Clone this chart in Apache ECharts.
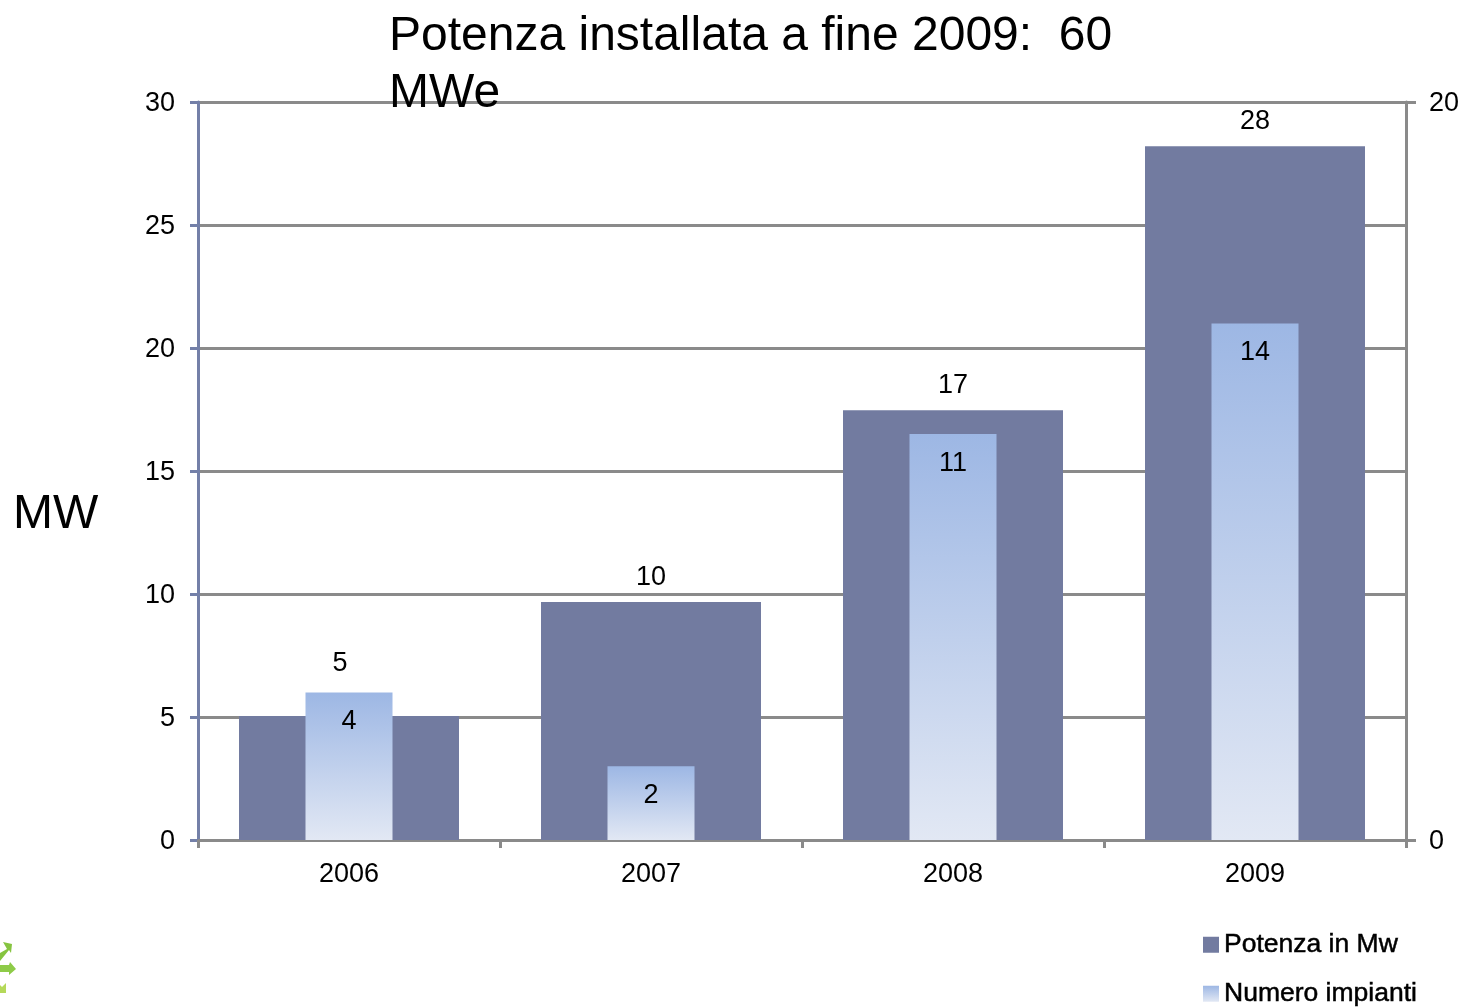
<!DOCTYPE html>
<html>
<head>
<meta charset="utf-8">
<title>Potenza installata</title>
<script src="https://cdn.jsdelivr.net/npm/echarts@6/dist/echarts.min.js"></script>
<style>
html, body { margin: 0; padding: 0; background: #fff; }
#main { width: 1463px; height: 1007px; }
</style>
</head>
<body>
<div id="main"></div>
<script>
var anni = ['2006', '2007', '2008', '2009'];
var potenzaMw = [5.04, 9.67, 17.47, 28.2];
var numeroImpianti = [4, 2, 11, 14];
var ticksPotenza = [0, 30];
var ticksImpianti = [0, 20];

var font = '"Liberation Sans", Arial, sans-serif';
var grigio = '#8a8a8a';
var bluAsse = '#7480a8';

var gradienteChiaro = new echarts.graphic.LinearGradient(0, 0, 0, 1, [
    { offset: 0, color: '#9db7e4' },
    { offset: 1, color: '#e2e8f4' }
]);

var myChart = echarts.init(document.getElementById('main'), null, { renderer: 'canvas' });

// il 5 del 2006 sta spostato sopra la barra chiara
var datiPotenza = potenzaMw.map(function (v, i) {
    if (i == 0) {
        return { value: v, label: { offset: [-9, -28] } };
    }
    return v;
});

// due legende separate: in verticale la seconda voce andava a capo a destra
function voceLegenda(nome, top) {
    return {
        left: 1198,
        top: top,
        icon: 'rect',
        itemWidth: 16,
        itemHeight: 16,
        data: [nome],
        textStyle: {
            fontFamily: font,
            fontSize: 26.5,
            color: '#000',
            textBorderColor: '#000',
            textBorderWidth: 0.5
        }
    };
}

// etichette degli assi y, un paio di pixel piu in basso della tacca
function etichettaY() {
    return {
        color: '#000',
        margin: 23,
        formatter: '{v|{value}}',
        rich: { v: { fontFamily: font, fontSize: 27, color: '#000', padding: [4, 0, 0, 0] } }
    };
}

var option = {
    backgroundColor: '#fff',
    animation: false,
    textStyle: { fontFamily: font },
    title: [
        {
            text: 'Potenza installata a fine 2009:  60\nMWe',
            left: 384,
            top: 3,
            textStyle: { fontFamily: font, fontSize: 48, fontWeight: 'normal', color: '#000', lineHeight: 57 }
        },
        {
            text: 'MW',
            left: 8,
            top: 486,
            textStyle: { fontFamily: font, fontSize: 48, fontWeight: 'normal', color: '#000' }
        }
    ],
    legend: [
        voceLegenda('Potenza in Mw', 926),
        voceLegenda('Numero impianti', 975)
    ],
    grid: { left: 198, right: 57, top: 102, bottom: 167 },
    xAxis: [
        {
            type: 'category',
            data: anni,
            axisLine: { lineStyle: { color: grigio, width: 3 } },
            axisTick: { show: true, alignWithLabel: false, length: 8, lineStyle: { color: grigio, width: 3 } },
            axisLabel: { fontFamily: font, fontSize: 27, color: '#000', margin: 21 }
        },
        // secondo asse nascosto, cosi le barre chiare restano centrate su quelle scure
        { type: 'category', data: anni, show: false }
    ],
    yAxis: [
        {
            type: 'value',
            min: ticksPotenza[0],
            max: ticksPotenza[1],
            interval: 5,
            axisLine: { show: true, lineStyle: { color: bluAsse, width: 3 } },
            axisTick: { show: true, length: 8, lineStyle: { color: bluAsse, width: 3 } },
            axisLabel: etichettaY(),
            splitLine: { show: true, lineStyle: { color: grigio, width: 3 } }
        },
        {
            type: 'value',
            position: 'right',
            min: ticksImpianti[0],
            max: ticksImpianti[1],
            interval: 20,
            axisLine: { show: true, lineStyle: { color: grigio, width: 3 } },
            axisTick: { show: true, length: 10, lineStyle: { color: grigio, width: 3 } },
            axisLabel: etichettaY(),
            splitLine: { show: false }
        }
    ],
    series: [
        {
            name: 'Potenza in Mw',
            type: 'bar',
            xAxisIndex: 0,
            yAxisIndex: 0,
            data: datiPotenza,
            barWidth: 220,
            itemStyle: { color: '#727ba0' },
            label: {
                show: true,
                position: 'top',
                distance: 11,
                fontFamily: font,
                fontSize: 27,
                color: '#000',
                formatter: function (p) { return Math.round(p.value); }
            },
            z: 2
        },
        {
            name: 'Numero impianti',
            type: 'bar',
            xAxisIndex: 1,
            yAxisIndex: 1,
            data: numeroImpianti,
            barWidth: 87,
            itemStyle: { color: gradienteChiaro },
            label: {
                show: true,
                position: 'insideTop',
                distance: 16,
                fontFamily: font,
                fontSize: 27,
                color: '#000'
            },
            z: 3
        }
    ],
    // logo tagliato in basso a sinistra
    graphic: [
        { type: 'polygon', shape: { points: [[0, 953], [7, 949], [3, 942], [12, 944], [11, 953], [9, 950], [0, 961]] }, style: { fill: '#86c440' } },
        { type: 'polygon', shape: { points: [[0, 965], [9, 965], [10, 962], [16, 969], [9, 975], [9, 972], [0, 972]] }, style: { fill: '#8ecb48' } },
        { type: 'polygon', shape: { points: [[0, 985], [2, 987], [6, 983], [6, 993], [0, 993]] }, style: { fill: '#b5d95a' } }
    ]
};

myChart.setOption(option);
</script>
</body>
</html>
